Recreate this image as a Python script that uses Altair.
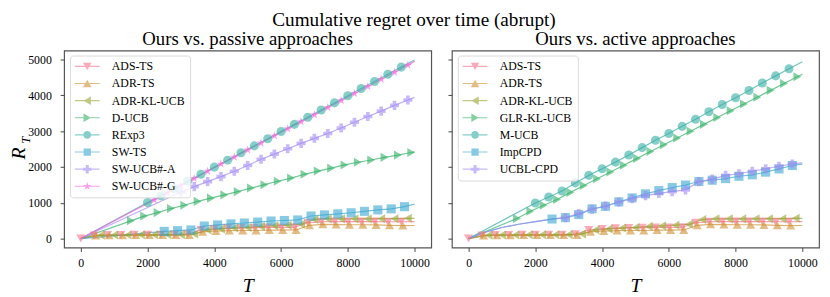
import altair as alt
import pandas as pd

FONT = "Liberation Serif"

# ---------------- shared series (both panels) ----------------
ADS_T = [0, 400, 800, 1200, 1600, 2000, 2400, 2800, 3200, 3600, 4000, 4400, 4800, 5200, 5600, 6000, 6400, 6800, 7200, 7600, 8000, 8400, 8800, 9200, 9600]
ADS_R = [0, 90, 100, 100, 105, 105, 110, 110, 125, 240, 270, 290, 300, 305, 310, 312, 315, 440, 470, 475, 475, 475, 475, 470, 470]
ADS_END = 475

ADR_T = [450, 850, 1250, 1650, 2050, 2450, 2850, 3250, 3650, 4050, 4450, 4850, 5250, 5650, 6050, 6450, 6850, 7250, 7650, 8050, 8450, 8850, 9250, 9650]
ADR_R = [85, 90, 90, 95, 95, 95, 95, 100, 185, 210, 220, 225, 225, 235, 235, 240, 370, 395, 390, 385, 385, 380, 370, 360]
ADR_END = 365

ADRKL_T = [600, 1000, 1400, 1800, 2200, 2600, 3000, 3400, 3800, 4200, 4600, 5000, 5400, 5800, 6200, 6600, 7000, 7400, 7800, 8200, 8600, 9000, 9400, 9800]
ADRKL_R = [95, 100, 100, 105, 105, 105, 110, 130, 240, 270, 295, 310, 340, 355, 375, 400, 530, 550, 550, 550, 550, 555, 555, 565]
ADRKL_END = 565

# ---------------- passive panel ----------------
DUCB_T = [1500, 1900, 2300, 2700, 3100, 3500, 3900, 4300, 4700, 5100, 5500, 5900, 6300, 6700, 7100, 7500, 7900, 8300, 8700, 9100, 9500, 9900]
DUCB_R = [495, 628, 725, 838, 929, 1038, 1129, 1220, 1311, 1410, 1505, 1600, 1690, 1795, 1885, 1967, 2057, 2131, 2194, 2268, 2331, 2404]
DUCB_END = 2420

REXP3_T = [2000, 2400, 2800, 3200, 3600, 4000, 4400, 4800, 5200, 5600, 6000, 6400, 6800, 7200, 7600, 8000, 8400, 8800, 9200, 9600]
REXP3_R = [1005, 1195, 1400, 1600, 1795, 1995, 2190, 2395, 2590, 2790, 2990, 3190, 3390, 3590, 3790, 3990, 4190, 4390, 4590, 4790]
REXP3_END = 4990

SWTS_T = [2500, 2900, 3300, 3700, 4100, 4500, 4900, 5300, 5700, 6100, 6500, 6900, 7300, 7700, 8100, 8500, 8900, 9300, 9700]
SWTS_R = [200, 220, 240, 350, 380, 410, 435, 460, 490, 505, 520, 630, 660, 690, 720, 760, 800, 830, 890]
SWTS_END = 960

SWA_T = [3000, 3400, 3800, 4200, 4600, 5000, 5400, 5800, 6200, 6600, 7000, 7400, 7800, 8200, 8600, 9000, 9400, 9800]
SWA_R = [1300, 1450, 1590, 1730, 1880, 2040, 2215, 2360, 2510, 2660, 2800, 2935, 3090, 3250, 3410, 3560, 3720, 3870]
SWA_END = 3945

SWG_T = [2200, 2600, 3000, 3400, 3800, 4200, 4600, 5000, 5400, 5800, 6200, 6600, 7000, 7400, 7800, 8200, 8600, 9000, 9400, 9800]
SWG_R = [1080, 1280, 1480, 1680, 1880, 2080, 2275, 2475, 2670, 2870, 3065, 3265, 3460, 3660, 3855, 4055, 4250, 4450, 4645, 4845]
SWG_END = 4950

# ---------------- active panel ----------------
GLR_T = [1450, 1850, 2250, 2650, 3050, 3450, 3850, 4250, 4650, 5050, 5450, 5850, 6250, 6650, 7050, 7450, 7850, 8250, 8650, 9050, 9450, 9850]
GLR_R = [560, 765, 930, 1090, 1290, 1480, 1670, 1860, 2050, 2240, 2430, 2620, 2810, 3000, 3190, 3380, 3570, 3760, 3950, 4140, 4330, 4520]
GLR_END = 4590

MUCB_T = [2000, 2400, 2800, 3200, 3600, 4000, 4400, 4800, 5200, 5600, 6000, 6400, 6800, 7200, 7600, 8000, 8400, 8800, 9200, 9600]
MUCB_R = [995, 1160, 1330, 1555, 1765, 1950, 2135, 2335, 2540, 2745, 2935, 3135, 3335, 3545, 3745, 3935, 4135, 4345, 4545, 4745]
MUCB_END = 4940

IMP_T = [2500, 2900, 3300, 3700, 4100, 4500, 4900, 5300, 5700, 6100, 6500, 6900, 7300, 7700, 8100, 8500, 8900, 9300, 9700]
IMP_R = [545, 585, 670, 830, 900, 1025, 1135, 1250, 1340, 1425, 1495, 1595, 1630, 1675, 1740, 1780, 1855, 1945, 2040]
IMP_END = 2080

UCBL_T = [2900, 3300, 3700, 4100, 4500, 4900, 5300, 5700, 6100, 6500, 6900, 7300, 7700, 8100, 8500, 8900, 9300, 9700]
UCBL_R = [585, 700, 820, 910, 1020, 1110, 1200, 1260, 1310, 1360, 1590, 1660, 1765, 1810, 1880, 1950, 2020, 2085]
UCBL_END = 2115

# early (unmarked) part of the CPD curves
CPD_LEAD_T = [500, 1000, 1500, 2000]
CPD_LEAD_R = [180, 310, 400, 475]

X_TICKS = [0, 2000, 4000, 6000, 8000, 10000]
Y_TICKS = [0, 1000, 2000, 3000, 4000, 5000]

COLORS = ["#f77189", "#ce9032", "#97a431", "#32b166", "#36ada4", "#39a7d0", "#a48cf4", "#f561dd"]
STAR = "M0,-1L0.225,-0.309L0.951,-0.309L0.363,0.118L0.588,0.809L0,0.382L-0.588,0.809L-0.363,0.118L-0.951,-0.309L-0.225,-0.309Z"
SHAPES = ["triangle-down", "triangle-up", "triangle-left", "triangle-right", "circle", "square", "cross", STAR]
SIZES = [85, 85, 85, 85, 70, 65, 80, 90]

# legend glyphs: the marker with a short line through it (clockwise sub-paths)
LEG_LINE = "M-2.9,-0.14H2.9V0.14H-2.9Z"
LEG_MARKERS = [
    "M-1,-0.866L1,-0.866L0,0.866Z",
    "M-1,0.866L0,-0.866L1,0.866Z",
    "M0.866,-1L0.866,1L-0.866,0Z",
    "M-0.866,-1L0.866,0L-0.866,1Z",
    "M0.9,0A0.9,0.9,0,1,1,-0.9,0A0.9,0.9,0,1,1,0.9,0Z",
    "M-0.85,-0.85H0.85V0.85H-0.85Z",
    "M-1,-0.35H-0.35V-1H0.35V-0.35H1V0.35H0.35V1H-0.35V0.35H-1Z",
    STAR,
]
LEG_SHAPES = [m + LEG_LINE for m in LEG_MARKERS]

PASSIVE = [
    ("ADS-TS", ADS_T, ADS_R, [], [], ADS_END),
    ("ADR-TS", ADR_T, ADR_R, [0], [0], ADR_END),
    ("ADR-KL-UCB", ADRKL_T, ADRKL_R, [0], [0], ADRKL_END),
    ("D-UCB", DUCB_T, DUCB_R, [0], [0], DUCB_END),
    ("RExp3", REXP3_T, REXP3_R, [0], [0], REXP3_END),
    ("SW-TS", SWTS_T, SWTS_R, [0], [0], SWTS_END),
    ("SW-UCB#-A", SWA_T, SWA_R, [0], [0], SWA_END),
    ("SW-UCB#-G", SWG_T, SWG_R, [0], [0], SWG_END),
]
ACTIVE = [
    ("ADS-TS", ADS_T, ADS_R, [], [], ADS_END),
    ("ADR-TS", ADR_T, ADR_R, [0], [0], ADR_END),
    ("ADR-KL-UCB", ADRKL_T, ADRKL_R, [0], [0], ADRKL_END),
    ("GLR-KL-UCB", GLR_T, GLR_R, [0], [0], GLR_END),
    ("M-UCB", MUCB_T, MUCB_R, [0], [0], MUCB_END),
    ("ImpCPD", IMP_T, IMP_R, [0] + CPD_LEAD_T, [0] + CPD_LEAD_R, IMP_END),
    ("UCBL-CPD", UCBL_T, UCBL_R, [0] + CPD_LEAD_T + [2500], [0] + CPD_LEAD_R + [545], UCBL_END),
]

PLOT_W = 373
PLOT_H = 200


def frame(series):
    rows = []
    for k, (name, mt, mr, lt, lr, end) in enumerate(series):
        for t, r in zip(lt, lr):
            rows.append(dict(series=name, name=name, lname=name, T=t, R=r, m=0, k=k))
        for t, r in zip(mt, mr):
            rows.append(dict(series=name, name=name, lname=name, T=t, R=r, m=1, k=k))
        rows.append(dict(series=name, name=name, lname=name, T=10000, R=end, m=0, k=k))
    return pd.DataFrame(rows)


def panel(series, subtitle, left):
    names = [s[0] for s in series]
    n = len(names)
    df = frame(series)
    xs = alt.Scale(domain=[-500, 10500], nice=False, zero=False)
    ys = alt.Scale(domain=[-250, 5250], nice=False, zero=False)
    xaxis = alt.Axis(values=X_TICKS, tickCount=6, format="d", title="T", titleFont=FONT,
                     titleFontStyle="italic", titleFontWeight="normal", titleFontSize=20,
                     titlePadding=8, labelFont=FONT, labelFontSize=12, labelPadding=6,
                     tickSize=4, tickColor="#444", domain=False, grid=False, labelOverlap=False,
                     labelColor="black", titleColor="black")
    if left:
        yaxis = alt.Axis(values=Y_TICKS, tickCount=6, format="d", title="R", titleFont=FONT,
                         titleFontStyle="italic", titleFontWeight="normal", titleFontSize=20,
                         titleAngle=270, titleX=-40, titleY=104, titleAlign="center",
                         titleBaseline="alphabetic", labelFont=FONT, labelFontSize=12,
                         labelPadding=9, tickSize=4, tickColor="#444", domain=False,
                         labelOverlap=False, grid=False, labelColor="black", titleColor="black")
    else:
        yaxis = alt.Axis(values=Y_TICKS, tickCount=6, labels=False, title=None, tickSize=4,
                         tickColor="#444", domain=False, grid=False)

    X = alt.X("T:Q", scale=xs, axis=xaxis)
    Y = alt.Y("R:Q", scale=ys, axis=yaxis)

    base = alt.Chart(df)
    lines = base.mark_line(strokeWidth=1.2, opacity=0.7).encode(
        x=X, y=Y,
        stroke=alt.Stroke("series:N", scale=alt.Scale(domain=names, range=COLORS[:n]), legend=None),
        order="T:Q",
    )
    pts = base.transform_filter("datum.m == 1").mark_point(filled=True, opacity=0.6, strokeWidth=0).encode(
        x=X, y=Y,
        fill=alt.Fill("name:N", scale=alt.Scale(domain=names, range=COLORS[:n]), legend=None),
        shape=alt.Shape("name:N", scale=alt.Scale(domain=names, range=SHAPES[:n]), legend=None),
        size=alt.Size("name:N", scale=alt.Scale(domain=names, range=SIZES[:n]), legend=None),
    )
    leg = alt.Legend(orient="none", legendX=6, legendY=5, title=None, padding=5,
                     labelFont=FONT, labelFontSize=12, labelColor="black",
                     labelOffset=19, rowPadding=5.4, symbolSize=75, symbolOpacity=0.6,
                     symbolStrokeWidth=0, symbolOffset=6.5,
                     fillColor="rgba(255,255,255,0.8)", strokeColor="#d9d9d9", cornerRadius=3)
    legend_layer = base.transform_filter("datum.m == 1").mark_point(filled=True, opacity=0, size=1).encode(
        x=X, y=Y,
        color=alt.Color("lname:N", scale=alt.Scale(domain=names, range=COLORS[:n]), legend=leg),
        shape=alt.Shape("lname:N", scale=alt.Scale(domain=names, range=LEG_SHAPES[:n]), legend=leg),
    )
    layers = [lines, pts, legend_layer]
    if left:
        sub = alt.Chart(pd.DataFrame({"t": ["T"]})).mark_text(
            angle=270, font=FONT, fontStyle="italic", fontSize=13, baseline="alphabetic",
            align="center", color="black").encode(x=alt.value(-35), y=alt.value(91), text="t:N")
        layers.append(sub)
    return alt.layer(*layers).properties(
        width=PLOT_W, height=PLOT_H,
        title=alt.TitleParams(subtitle, font=FONT, fontSize=19, fontWeight="normal",
                              anchor="middle", frame="group", offset=1.5, color="black"),
    ).resolve_scale(shape="independent", fill="independent", color="independent")


left = panel(PASSIVE, "Ours vs. passive approaches", True)
right = panel(ACTIVE, "Ours vs. active approaches", False)

chart = alt.hconcat(left, right, spacing=14).resolve_scale(
    stroke="independent", fill="independent", shape="independent", size="independent",
    color="independent", x="independent", y="independent",
).resolve_legend(color="independent", shape="independent").properties(
    title=alt.TitleParams("Cumulative regret over time (abrupt)", font=FONT, fontSize=19.5,
                          fontWeight="normal", anchor="middle", offset=-1, color="black"),
    padding={"left": 0, "top": 0, "right": 2, "bottom": 0},
).configure_view(stroke="#555", strokeWidth=1.2)

chart.save("out.html", embed_options={"renderer": "svg", "actions": False})
